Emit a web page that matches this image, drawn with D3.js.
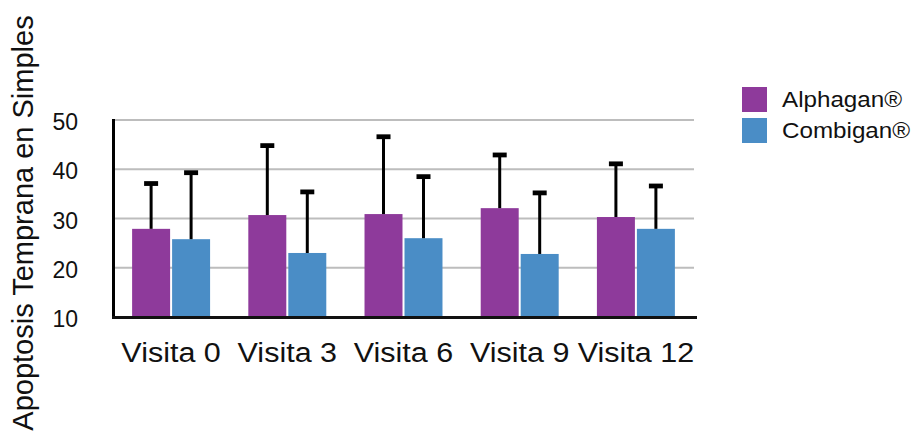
<!DOCTYPE html>
<html><head><meta charset="utf-8">
<script src="https://cdn.jsdelivr.net/npm/d3@7"></script>
<style>body{margin:0;background:#fff;} svg{display:block;font-family:"Liberation Sans",Arial,Helvetica,sans-serif;}</style>
</head><body>
<svg id="chart" width="915" height="436"></svg>
<script>
const categories = ["Visita 0","Visita 3","Visita 6","Visita 9","Visita 12"];
const seriesNames = ["Alphagan®","Combigan®"];
const alphagan = [27.9, 30.7, 30.9, 32.1, 30.3];
const combigan = [25.8, 23.0, 26.0, 22.8, 27.9];
const alphaganUpper = [37.1, 44.8, 46.6, 42.9, 41.1];
const combiganUpper = [39.3, 35.4, 38.5, 35.2, 36.6];
const yTicks = [10, 20, 30, 40, 50];
const colors = ["#8e3a9b", "#4a8dc6"];

(function () {
const svg = d3.select("#chart");
const pLeft = 113, pRight = 694, pTop = 120, pBottom = 317;

const x = d3.scaleBand().domain(categories).range([pLeft, pRight]).paddingInner(0.329).paddingOuter(0.1645);
const xs = d3.scaleBand().domain(seriesNames).range([0, x.bandwidth()]).paddingInner(0.05);
const y = d3.scaleLinear().domain([10, 50]).range([pBottom, pTop]);

// gridlines
svg.append("g").selectAll("line").data(yTicks.filter(d => d > 10)).join("line")
  .attr("x1", pLeft).attr("x2", pRight).attr("y1", d => y(d)).attr("y2", d => y(d))
  .attr("stroke", "#bdbdbd").attr("stroke-width", 2.2);

// y tick labels
svg.append("g").selectAll("text").data(yTicks).join("text")
  .attr("x", 78).attr("y", d => y(d)).attr("dy", "0.44em")
  .attr("text-anchor", "end").attr("font-size", 23).attr("fill", "#111")
  .text(d => d);

const data = categories.map((c, i) => ({
  cat: c,
  vals: [
    {s: seriesNames[0], v: alphagan[i], u: alphaganUpper[i], k: 0},
    {s: seriesNames[1], v: combigan[i], u: combiganUpper[i], k: 1}
  ]
}));

const g = svg.append("g").selectAll("g").data(data).join("g")
  .attr("transform", d => `translate(${x(d.cat)},0)`);

g.selectAll("rect").data(d => d.vals).join("rect")
  .attr("x", d => xs(d.s)).attr("width", xs.bandwidth())
  .attr("y", d => y(d.v)).attr("height", d => y(10) - y(d.v))
  .attr("fill", d => colors[d.k]);

// error bars
g.selectAll("line.stem").data(d => d.vals).join("line").attr("class", "stem")
  .attr("x1", d => xs(d.s) + xs.bandwidth() / 2).attr("x2", d => xs(d.s) + xs.bandwidth() / 2)
  .attr("y1", d => y(d.v)).attr("y2", d => y(d.u))
  .attr("stroke", "#000").attr("stroke-width", 3);
g.selectAll("line.cap").data(d => d.vals).join("line").attr("class", "cap")
  .attr("x1", d => xs(d.s) + xs.bandwidth() / 2 - 7).attr("x2", d => xs(d.s) + xs.bandwidth() / 2 + 7)
  .attr("y1", d => y(d.u)).attr("y2", d => y(d.u))
  .attr("stroke", "#000").attr("stroke-width", 4.8);

// axes lines
svg.append("line").attr("x1", pLeft + 0.5).attr("x2", pLeft + 0.5).attr("y1", pTop - 1).attr("y2", pBottom + 1.5)
  .attr("stroke", "#000").attr("stroke-width", 3);
svg.append("line").attr("x1", pLeft - 1).attr("x2", 697).attr("y1", pBottom + 0.5).attr("y2", pBottom + 0.5)
  .attr("stroke", "#111").attr("stroke-width", 3);

// x labels
svg.append("g").selectAll("text").data(categories).join("text")
  .attr("transform", d => `translate(${x(d) + x.bandwidth() / 2},362) scale(1.13,1)`)
  .attr("text-anchor", "middle").attr("font-size", 27).attr("fill", "#111")
  .text(d => d);

// y title
svg.append("text").attr("transform", "translate(33,223) rotate(-90)")
  .attr("text-anchor", "middle").attr("font-size", 29).attr("fill", "#111")
  .text("Apoptosis Temprana en Simples");

// legend
const lg = svg.append("g").selectAll("g").data(seriesNames).join("g")
  .attr("transform", (d, i) => `translate(742,${87 + i * 31})`);
lg.append("rect").attr("width", 25).attr("height", 25).attr("fill", (d, i) => colors[i]);
lg.append("text").attr("transform", "translate(40,19.5) scale(1.1,1)")
  .attr("font-size", 22).attr("fill", "#111").text(d => d);
})();
</script>
</body></html>
